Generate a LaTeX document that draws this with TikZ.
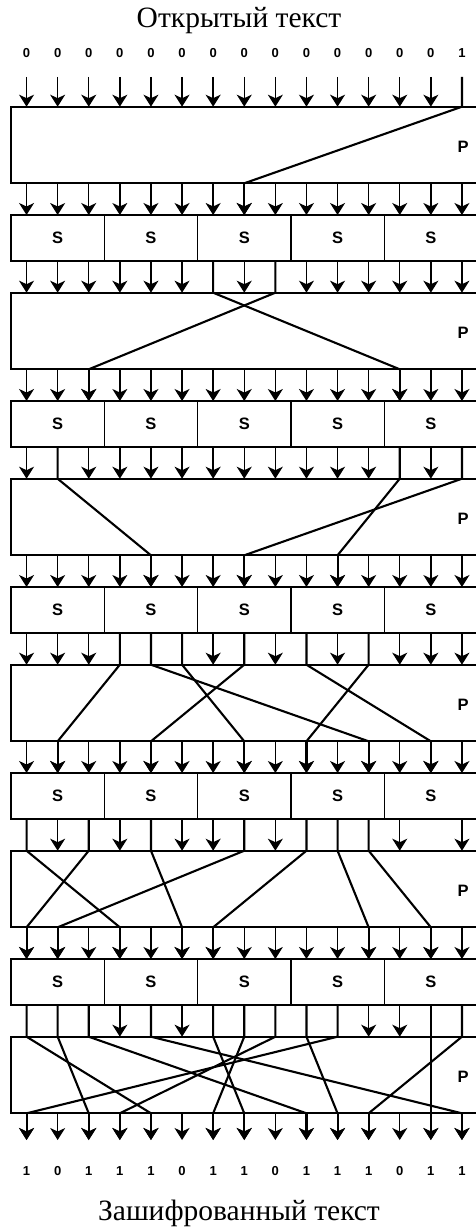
\documentclass[tikz,border=0pt]{standalone}
\usepackage{fontspec}
\setmainfont{Liberation Serif}
\newfontfamily\bitfont{Liberation Sans}
\usetikzlibrary{arrows.meta, calc}

\tikzset{
  pbox/.style={draw, line width=2pt, fill=white, inner sep=0pt, outer sep=0pt,
    minimum width=466.5pt, minimum height=76.6pt},
  scell/.style={draw, line width=1.2pt, fill=white, inner sep=0pt, outer sep=0pt,
    minimum width=93.3pt, minimum height=46pt, font=\bitfont\bfseries\fontsize{16.5}{16.5}\selectfont},
  wireline/.style={line width=1.4pt},
  hotline/.style={line width=2.1pt},
  arrowed/.style={-{Stealth[length=12pt, width=15pt, inset=3.5pt]}},
  bitlabel/.style={font=\bitfont\bfseries\fontsize{13}{13}\selectfont},
  heading/.style={font=\fontsize{29.5}{29.5}\selectfont},
}

\begin{document}
\begin{tikzpicture}[x=1pt, y=-1pt]
  \useasboundingbox (0,0) rectangle (476,1228);

  \node[heading] (plain) at (239,21) {Открытый текст};
  \node[heading] (cipher) at (239,1213) {Зашифрованный текст};

  % P and S layers
  \foreach \k in {1,...,6}{
    \pgfmathsetmacro\ptop{106.7+186*(\k-1)}
    \node[pbox, anchor=north west] (P\k) at (11,\ptop) {};
    \node[font=\bitfont\bfseries\fontsize{16.5}{16.5}\selectfont] (P\k lab) at (463,\ptop+40) {P};
    \foreach \i in {0,...,14}{
      \coordinate (P\k t\i) at ({26.55+31.1*\i},\ptop);
      \coordinate (P\k b\i) at ({26.55+31.1*\i},\ptop+76.6);
    }
  }
  \foreach \k in {1,...,5}{
    \pgfmathsetmacro\stop{215+186*(\k-1)}
    \foreach \j in {0,...,4}
      \node[scell, anchor=north west] (S\k-\j) at ({11+93.3*\j},\stop) {S};
    \draw[line width=2pt] (S\k-0.north west) rectangle (S\k-4.south east);
    \foreach \i in {0,...,14}{
      \coordinate (S\k t\i) at ({26.55+31.1*\i},\stop);
      \coordinate (S\k b\i) at ({26.55+31.1*\i},\stop+46);
    }
  }

  % input and output bits
  \foreach \b [count=\i from 0] in {0,0,0,0,0,0,0,0,0,0,0,0,0,0,1}{
    \node[bitlabel] (x\i) at ({26.55+31.1*\i},53) {\b};
    \coordinate (in\i) at ({26.55+31.1*\i},77);
  }
  \foreach \b [count=\i from 0] in {1,0,1,1,1,0,1,1,0,1,1,1,0,1,1}{
    \node[bitlabel] (y\i) at ({26.55+31.1*\i},1171) {\b};
    \coordinate (out\i) at ({26.55+31.1*\i},1140);
  }

  \foreach \i in {0,...,13}
    \draw[wireline, arrowed] (in\i) -- (P1t\i);
  \draw[hotline] (in14) -- (P1t14) -- (P1b7);

  % P -> S
  \foreach \k in {1,...,5}
    \foreach \i in {0,...,14}
      \draw[wireline, arrowed] (P\k b\i) -- (S\k t\i);
  \foreach \k/\hot in {1/{7}, 2/{2,12}, 3/{4,7,10}, 4/{1,4,7,9,11,13}, 5/{0,1,3,5,6,11,13}}
    \foreach \i in \hot
      \draw[hotline, arrowed] (P\k b\i) -- (S\k t\i);

  % S -> P, untouched bits
  \foreach \k/\n/\list in {1/2/{0,1,2,3,4,5,7,9,10,11,12,13,14},
      2/3/{0,2,3,4,5,6,7,8,9,10,11,13},
      3/4/{0,1,2,6,8,10,12,13,14},
      4/5/{1,3,5,6,8,12,14},
      5/6/{3,5,11,12}}
    \foreach \i in \list
      \draw[wireline, arrowed] (S\k b\i) -- (P\n t\i);

  % S -> P, changed bits through the permutation
  \foreach \k/\n/\pairs in {1/2/{6/12,8/2},
      2/3/{1/4,12/10,14/7},
      3/4/{3/1,4/11,5/7,7/4,9/13,11/9},
      4/5/{0/3,2/0,4/5,7/1,9/6,10/11,11/13},
      5/6/{0/4,1/2,2/9,4/14,6/7,7/6,8/3,9/10,10/0,13/13,14/11}}
    \foreach \a/\b in \pairs
      \draw[hotline] (S\k b\a) -- (P\n t\a) -- (P\n b\b);

  % output
  \foreach \i in {0,...,14}
    \draw[wireline, arrowed] (P6b\i) -- (out\i);
  \foreach \i in {0,2,3,4,6,7,9,10,11,13,14}
    \draw[hotline, arrowed] (P6b\i) -- (out\i);
\end{tikzpicture}
\end{document}
